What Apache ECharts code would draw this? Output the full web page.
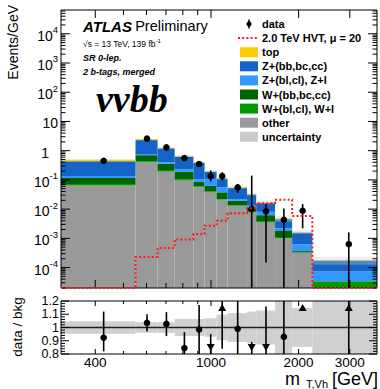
<!DOCTYPE html>
<html><head><meta charset="utf-8">
<script src="https://cdn.jsdelivr.net/npm/echarts@6/dist/echarts.min.js"></script>
<style>html,body{margin:0;padding:0;background:#fff}#c{width:380px;height:389px}</style>
</head><body><div id="c"></div><script>
// ---------- data ----------
const binEdges   = [305, 550, 655, 750, 870, 950, 1045, 1140, 1330, 1430, 1660, 1900, 2230, 3720];
// background components (Events/GeV), stacked bottom -> top
const otherVals  = [0.064, 0.40, 0.193, 0.095, 0.056, 0.0375, 0.021, 0.013, 0.0077, 0.0035, 0.0010, 0.000321, 0.000012];
const wlVals     = [0.009, 0.03, 0.011, 0.009, 0.004, 0.0025, 0.001, 0.0007, 0.0004, 0.0002, 0.00004, 0.000014, 0.000021];
const whfVals    = [0.044, 0.27, 0.152, 0.085, 0.025, 0.022, 0.0156, 0.0057, 0.0034, 0.0025, 0.00074, 0.000031, 0.000001];
const zlVals     = [0.020, 0.06, 0.044, 0.041, 0.019, 0.046, 0.0184, 0.0026, 0.0015, 0.0019, 0.00042, 0.000264, 0.000039];
const zhfVals    = [0.297, 1.54, 0.80, 0.40, 0.282, 0.081, 0.052, 0.031, 0.0188, 0.0081, 0.0023, 0.00094, 0.000101];
const topVals    = [0.056, 0.19, 0.07, 0.03, 0.024, 0.011, 0.006, 0.003, 0.0012, 0.0007, 0.0003, 0.00008, 0.000006];
const relUnc     = [0.047, 0.04, 0.04, 0.064, 0.064, 0.07, 0.096, 0.109, 0.12, 0.128, 0.25, 0.146, 0.3];
// data points with error bar ends (0 = down to the axis floor)
const dataVals   = [0.45, 2.58, 1.30, 0.56, 0.35, 0.134, 0.134, 0.055, 0.010, 0.0084, 0.0043, 0.0088, 0.00063];
const dataLo     = [0.41, 2.42, 1.20, 0.51, 0.31, 0.088, 0.095, 0.036, 0, 0.00015, 0, 0.0022, 0];
const dataHi     = [0.50, 2.75, 1.41, 0.62, 0.41, 0.21, 0.184, 0.073, 0.14, 0.015, 0.0106, 0.0149, 0.0016];
// 2.0 TeV HVT signal, mu = 20
const hvtVals    = [2e-5, 2.3e-4, 4.7e-4, 9.2e-4, 1.4e-3, 2.7e-3, 4.0e-3, 7.2e-3, 0.0108, 0.0158, 0.021, 5.8e-3, 2e-5];
// ratio panel
const ratioVals  = [0.924, 1.035, 1.027, 0.845, 0.985, 0.67, 1.25, 0.99, 0.30, 0.50, 0.93, 5.3, 3.5];
const ratioLo    = [0.82, 0.97, 0.935, 0.78, 0.70, 0.60, 0.84, 0.60, 0.20, 0.40, 0.60, 1.25, 0.50];
const ratioHi    = [1.12, 1.10, 1.116, 0.965, 1.17, 0.95, 1.40, 1.40, 0.89, 1.158, 1.40, 8.0, 9.0];
// axes
const xLabelVals = [400, 1000, 2000, 3000];
const xTickVals  = [400, 500, 600, 700, 800, 900, 1000, 2000, 3000];
const yLabelExps = [-4, -3, -2, -1, 0, 1, 2, 3, 4];
const ratioTicks = [0.8, 0.9, 1.0, 1.1, 1.2];
const X_MIN = 305, X_MAX = 3720, Y_MIN = 2e-5, Y_MAX = 6.5e4, R_MIN = 0.8, R_MAX = 1.2;

const FONT = '"Liberation Sans", Arial, Helvetica, sans-serif';
const comps = [
  {name: 'other',            vals: otherVals, color: '#9a9a9a'},
  {name: 'W+(bl,cl), W+l',   vals: wlVals,    color: '#009a00'},
  {name: 'W+(bb,bc,cc)',     vals: whfVals,   color: '#006400'},
  {name: 'Z+(bl,cl), Z+l',   vals: zlVals,    color: '#3399ff'},
  {name: 'Z+(bb,bc,cc)',     vals: zhfVals,   color: '#1464c8'},
  {name: 'top',              vals: topVals,   color: '#ffcc00'}
];
const UNC_COLOR = '#cbcbcb', SIG_COLOR = '#ff1a1a';
const SIG_NAME = '2.0 TeV HVT, μ = 20';
let run = dataVals.map(() => 0);
comps.forEach(c => { c.base = run.slice(); run = run.map((b, i) => b + c.vals[i]); c.top = run.slice(); });
const totals = run;

function clampY(api, cs, v) {
  if (!(v > 0)) return cs.y + cs.height;
  const y = api.coord([X_MIN, v])[1];
  return Math.min(Math.max(y, cs.y), cs.y + cs.height);
}
function clampR(api, cs, v) {
  const y = api.coord([X_MIN, v])[1];
  return Math.min(Math.max(y, cs.y), cs.y + cs.height);
}
function xPix(api, v, yref) { return api.coord([v, yref])[0]; }
function ln(x1, y1, x2, y2, w) { return {type: 'line', shape: {x1, y1, x2, y2}, style: {stroke: '#000', lineWidth: w || 1}}; }

const series = [];
// stacked background
comps.forEach(c => {
  series.push({
    type: 'custom', name: c.name, xAxisIndex: 0, yAxisIndex: 0, z: 2,
    itemStyle: {color: c.color},
    data: c.top.map((t, i) => [binEdges[i], binEdges[i + 1], t]),
    encode: {x: [0, 1], y: 2},
    renderItem: (params, api) => {
      const i = params.dataIndex, cs = params.coordSys;
      const x0 = xPix(api, binEdges[i], 1), x1 = xPix(api, binEdges[i + 1], 1);
      const yT = clampY(api, cs, c.top[i]), yB = clampY(api, cs, c.base[i]);
      if (yB - yT <= 0) return null;
      return {type: 'rect', shape: {x: x0, y: yT, width: x1 - x0, height: yB - yT}, style: {fill: c.color}};
    }
  });
});
// uncertainty overlay in main panel
series.push({
  type: 'custom', name: 'uncertainty', xAxisIndex: 0, yAxisIndex: 0, z: 3,
  itemStyle: {color: UNC_COLOR},
  data: totals.map((t, i) => [binEdges[i], binEdges[i + 1], t]),
  encode: {x: [0, 1], y: 2},
  renderItem: (params, api) => {
    const i = params.dataIndex, cs = params.coordSys;
    const x0 = xPix(api, binEdges[i], 1), x1 = xPix(api, binEdges[i + 1], 1);
    const yT = clampY(api, cs, totals[i] * (1 + relUnc[i])), yB = clampY(api, cs, totals[i] * (1 - relUnc[i]));
    return {type: 'rect', shape: {x: x0, y: yT, width: x1 - x0, height: yB - yT}, style: {fill: 'rgba(200,200,200,0.35)'}};
  }
});
// data points
series.push({
  type: 'custom', name: 'data', xAxisIndex: 0, yAxisIndex: 0, z: 6,
  itemStyle: {color: '#000'},
  data: dataVals.map((v, i) => [(binEdges[i] + binEdges[i + 1]) / 2, v]),
  renderItem: (params, api) => {
    const i = params.dataIndex, cs = params.coordSys;
    const p = api.coord([api.value(0), api.value(1)]);
    return {type: 'group', children: [
      ln(p[0], clampY(api, cs, dataHi[i]), p[0], clampY(api, cs, dataLo[i]), 1.6),
      {type: 'circle', shape: {cx: p[0], cy: p[1], r: 3.3}, style: {fill: '#000'}}
    ]};
  }
});
// ticks, frame and tick labels, main panel
series.push({
  type: 'custom', xAxisIndex: 0, yAxisIndex: 0, z: 7, silent: true,
  data: [[X_MIN, 1]],
  renderItem: (params, api) => {
    const cs = params.coordSys, ch = [];
    const bot = cs.y + cs.height, right = cs.x + cs.width;
    xTickVals.forEach(v => {
      const x = xPix(api, v, 1), len = xLabelVals.indexOf(v) >= 0 ? 8 : 5;
      ch.push(ln(x, bot, x, bot - len), ln(x, cs.y, x, cs.y + len));
    });
    for (let e = -5; e <= 4; e++) for (let m = 1; m <= 9; m++) {
      const v = m * Math.pow(10, e);
      if (v < Y_MIN || v > Y_MAX) continue;
      const y = api.coord([X_MIN, v])[1], len = m === 1 ? 9 : 4.5;
      ch.push(ln(cs.x, y, cs.x + len, y), ln(right, y, right - len, y));
    }
    yLabelExps.forEach(e => {
      const y = api.coord([X_MIN, Math.pow(10, e)])[1];
      let t;
      if (e === 0) t = '{one|1}';
      else if (e === 1) t = '{b|10}';
      else t = '{b|10}{s|' + e + '}';
      ch.push({type: 'text', x: cs.x - 3, y: y, style: {
        text: t, align: 'right', verticalAlign: 'middle', fill: '#000',
        rich: {
          b: {fontSize: 14, fontFamily: FONT, lineHeight: 18, verticalAlign: 'bottom', fill: '#000'},
          one: {fontSize: 14, fontFamily: FONT, lineHeight: 18, verticalAlign: 'bottom', padding: [0, 9, 0, 0], fill: '#000'},
          s: {fontSize: 9.5, fontFamily: FONT, lineHeight: 11, verticalAlign: 'top', fill: '#000'}
        }}});
    });
    ch.push({type: 'rect', shape: {x: cs.x, y: cs.y, width: cs.width, height: cs.height}, style: {fill: null, stroke: '#000', lineWidth: 1}});
    return {type: 'group', children: ch};
  }
});
// HVT signal (dotted red step line)
series.push({
  type: 'custom', name: SIG_NAME, xAxisIndex: 0, yAxisIndex: 0, z: 8,
  itemStyle: {color: SIG_COLOR},
  data: hvtVals.map((v, i) => [binEdges[i], v]),
  renderItem: (params, api) => {
    if (params.dataIndex !== 0) return null;
    const cs = params.coordSys, pts = [];
    hvtVals.forEach((v, i) => {
      const y = clampY(api, cs, v);
      pts.push([xPix(api, binEdges[i], 1), y], [xPix(api, binEdges[i + 1], 1), y]);
    });
    return {type: 'polyline', shape: {points: pts}, style: {stroke: SIG_COLOR, lineWidth: 2, lineDash: [2, 2.2], fill: null}};
  }
});
// ratio uncertainty band
series.push({
  type: 'custom', name: 'uncertainty', xAxisIndex: 1, yAxisIndex: 1, z: 2,
  itemStyle: {color: UNC_COLOR},
  data: relUnc.map((u, i) => [binEdges[i], binEdges[i + 1], 1]),
  encode: {x: [0, 1], y: 2},
  renderItem: (params, api) => {
    const i = params.dataIndex, cs = params.coordSys;
    const x0 = xPix(api, binEdges[i], 1), x1 = xPix(api, binEdges[i + 1], 1);
    const yT = clampR(api, cs, 1 + relUnc[i]), yB = clampR(api, cs, 1 - relUnc[i]);
    return {type: 'rect', shape: {x: x0, y: yT, width: x1 - x0, height: yB - yT}, style: {fill: '#d0d0d0'}};
  }
});
// ratio unity line
series.push({
  type: 'custom', xAxisIndex: 1, yAxisIndex: 1, z: 3, silent: true,
  data: [[X_MIN, 1]],
  renderItem: (params, api) => {
    const cs = params.coordSys, y = api.coord([X_MIN, 1])[1];
    return {type: 'line', shape: {x1: cs.x, y1: y, x2: cs.x + cs.width, y2: y}, style: {stroke: '#222', lineWidth: 1.3}};
  }
});
// ratio points
series.push({
  type: 'custom', xAxisIndex: 1, yAxisIndex: 1, z: 6,
  data: ratioVals.map((v, i) => [(binEdges[i] + binEdges[i + 1]) / 2, Math.min(Math.max(v, R_MIN), R_MAX)]),
  renderItem: (params, api) => {
    const i = params.dataIndex, cs = params.coordSys, v = ratioVals[i];
    const x = api.coord([api.value(0), 1])[0];
    const ch = [];
    const yH = clampR(api, cs, ratioHi[i]), yL = clampR(api, cs, ratioLo[i]);
    if (yL - yH > 0.5) ch.push(ln(x, yH, x, yL, 1.6));
    if (v > R_MAX) {
      const y = cs.y + 7;
      ch.push({type: 'polygon', shape: {points: [[x, y - 4], [x - 4, y + 3], [x + 4, y + 3]]}, style: {fill: '#000'}});
    } else if (v < R_MIN) {
      const y = cs.y + cs.height - 7;
      ch.push({type: 'polygon', shape: {points: [[x, y + 4], [x - 4, y - 3], [x + 4, y - 3]]}, style: {fill: '#000'}});
    } else {
      ch.push({type: 'circle', shape: {cx: x, cy: api.coord([X_MIN, v])[1], r: 3.3}, style: {fill: '#000'}});
    }
    return {type: 'group', children: ch};
  }
});
// ratio ticks, frame, tick labels
series.push({
  type: 'custom', xAxisIndex: 1, yAxisIndex: 1, z: 7, silent: true,
  data: [[X_MIN, 1]],
  renderItem: (params, api) => {
    const cs = params.coordSys, ch = [];
    const bot = cs.y + cs.height, right = cs.x + cs.width;
    xTickVals.forEach(v => {
      const x = xPix(api, v, 1), len = xLabelVals.indexOf(v) >= 0 ? 5 : 3;
      ch.push(ln(x, bot, x, bot - len), ln(x, cs.y, x, cs.y + len));
    });
    for (let k = 0; k <= 20; k++) {
      const v = R_MIN + k * 0.02, y = api.coord([X_MIN, v])[1], len = k % 5 === 0 ? 8 : 4;
      ch.push(ln(cs.x, y, cs.x + len, y), ln(right, y, right - len, y));
    }
    xLabelVals.forEach(v => {
      ch.push({type: 'text', x: xPix(api, v, 1), y: bot + 1, style: {
        text: String(v), align: 'center', verticalAlign: 'top', fill: '#000', font: '13.5px ' + FONT}});
    });
    ratioTicks.forEach(v => {
      ch.push({type: 'text', x: cs.x - 2, y: api.coord([X_MIN, v])[1], style: {
        text: v === 1 ? '1' : v.toFixed(1), align: 'right', verticalAlign: 'middle', fill: '#000',
        font: '12.5px ' + FONT, lineHeight: 11}});
    });
    ch.push({type: 'rect', shape: {x: cs.x, y: cs.y, width: cs.width, height: cs.height}, style: {fill: null, stroke: '#000', lineWidth: 1}});
    return {type: 'group', children: ch};
  }
});

// legend (drawn in ROOT style, entries from the series definitions)
const legendEntries = [
  {name: 'data', kind: 'data'},
  {name: SIG_NAME, kind: 'line', color: SIG_COLOR}
].concat(comps.slice().reverse().map(c => ({name: c.name, kind: 'box', color: c.color})))
 .concat([{name: 'uncertainty', kind: 'box', color: UNC_COLOR}]);
const legendGraphics = [];
legendEntries.forEach((e, k) => {
  const cy = 24 + k * 14.1;
  if (e.kind === 'box') {
    legendGraphics.push({type: 'rect', shape: {x: 240, y: cy - 5, width: 18, height: 10}, style: {fill: e.color}});
  } else if (e.kind === 'line') {
    legendGraphics.push({type: 'line', shape: {x1: 238, y1: cy, x2: 258, y2: cy}, style: {stroke: e.color, lineWidth: 2, lineDash: [2, 2.2]}});
  } else {
    legendGraphics.push({type: 'line', shape: {x1: 249, y1: cy - 4.5, x2: 249, y2: cy + 4.5}, style: {stroke: '#000', lineWidth: 1.5}});
    legendGraphics.push({type: 'circle', shape: {cx: 249, cy: cy, r: 2.6}, style: {fill: '#000'}});
  }
  legendGraphics.push({type: 'text', x: 262, y: cy, style: {text: e.name, verticalAlign: 'middle', font: 'bold 11px ' + FONT, fill: '#000'}});
});

const hidden = {axisLine: {show: false}, axisTick: {show: false}, splitLine: {show: false}, axisLabel: {show: false}};
const option = {
  animation: false,
  backgroundColor: '#fff',
  grid: [
    {left: 61, top: 10, width: 316, height: 278, containLabel: false, outerBoundsMode: 'none'},
    {left: 61, top: 301, width: 316, height: 53, containLabel: false, outerBoundsMode: 'none'}
  ],
  xAxis: [
    Object.assign({type: 'log', gridIndex: 0, min: X_MIN, max: X_MAX}, hidden),
    Object.assign({type: 'log', gridIndex: 1, min: X_MIN, max: X_MAX}, hidden)
  ],
  yAxis: [
    Object.assign({type: 'log', gridIndex: 0, min: Y_MIN, max: Y_MAX}, hidden),
    Object.assign({type: 'value', gridIndex: 1, min: R_MIN, max: R_MAX}, hidden)
  ],
  graphic: [
    {type: 'text', x: 83, y: 26, style: {text: '{a|ATLAS} {p|Preliminary}', verticalAlign: 'middle',
      rich: {a: {font: 'italic bold 15px ' + FONT, fill: '#000'}, p: {font: '14.5px ' + FONT, fill: '#000'}}}},
    {type: 'text', x: 83, y: 43, style: {text: '{t|√s = 13 TeV, 139 fb}{s|-1}', verticalAlign: 'middle',
      rich: {t: {font: '8.5px ' + FONT, fill: '#000', lineHeight: 11, verticalAlign: 'bottom'},
             s: {font: '6px ' + FONT, fill: '#000', lineHeight: 6, verticalAlign: 'top'}}}},
    {type: 'text', x: 83, y: 58, style: {text: 'SR 0-lep.', verticalAlign: 'middle', font: 'italic bold 9px ' + FONT, fill: '#000'}},
    {type: 'text', x: 83, y: 72, style: {text: '2 b-tags, merged', verticalAlign: 'middle', font: 'italic bold 9px ' + FONT, fill: '#000'}},
    {type: 'text', x: 96, y: 99, style: {text: 'ννbb', verticalAlign: 'middle', font: 'italic bold 38px "Liberation Serif", "DejaVu Serif", serif', fill: '#000'}},
    {type: 'text', x: 13, y: 5, rotation: Math.PI / 2, style: {text: 'Events/GeV', align: 'right', verticalAlign: 'middle', font: '14px ' + FONT, fill: '#000'}},
    {type: 'text', x: 17, y: 327, rotation: Math.PI / 2, style: {text: 'data / bkg', align: 'center', verticalAlign: 'middle', font: '13.5px ' + FONT, fill: '#000'}},
    {type: 'text', x: 378, y: 388, style: {text: '[GeV]', align: 'right', verticalAlign: 'bottom', font: '18px ' + FONT, fill: '#000'}},
    {type: 'text', x: 328, y: 389, style: {text: 'T,Vh', align: 'right', verticalAlign: 'bottom', font: '11px ' + FONT, fill: '#000'}},
    {type: 'text', x: 300, y: 388, style: {text: 'm', align: 'right', verticalAlign: 'bottom', font: '18px ' + FONT, fill: '#000'}}
  ].concat(legendGraphics),
  series: series
};
const chart = echarts.init(document.getElementById('c'), null, {renderer: 'svg', width: 380, height: 389});
chart.setOption(option);
</script></body></html>
